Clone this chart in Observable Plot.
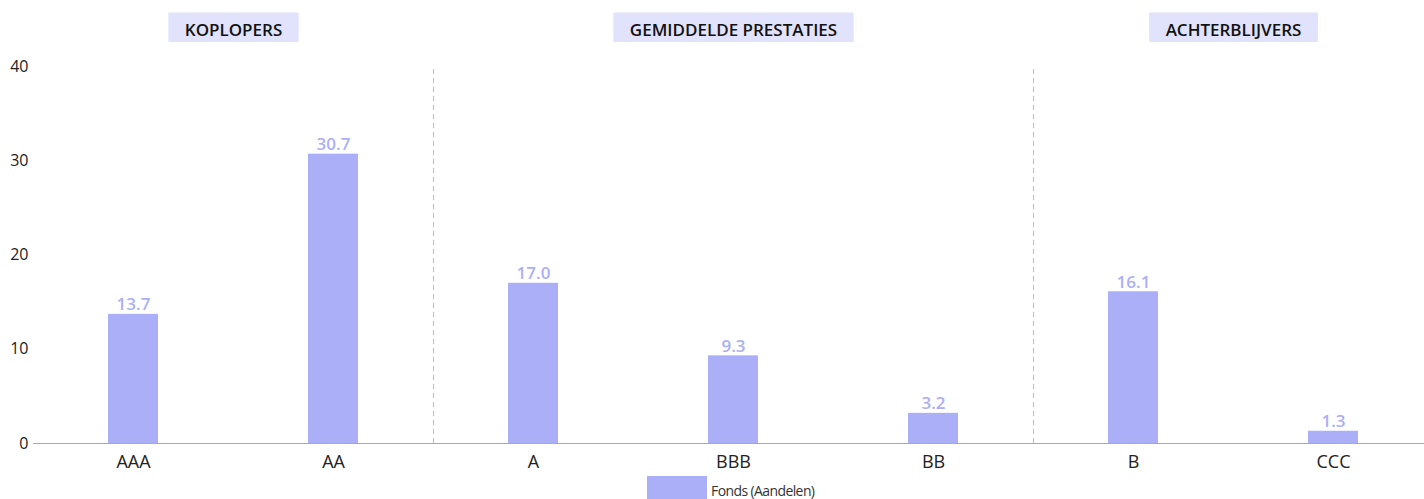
<!DOCTYPE html>
<html>
<head>
<meta charset="utf-8">
<script src="https://cdn.jsdelivr.net/npm/d3@7"></script>
<script src="https://cdn.jsdelivr.net/npm/@observablehq/plot@0.6"></script>
<style>
  html, body { margin: 0; padding: 0; background: #fff; }
  body { position: relative; width: 1424px; height: 499px; overflow: hidden; font-family: "Open Sans", sans-serif; }
  #chart { position: absolute; left: 0; top: 0; }
  #legend .sw { position: absolute; left: 647px; top: 476px; width: 60px; height: 23px; background: #abaff8; }
  #legend .lb { position: absolute; left: 711px; top: 484px; font-size: 14px; line-height: 14px; color: #333; letter-spacing: -0.6px; white-space: nowrap; }
</style>
</head>
<body>
<div id="chart"></div>
<div id="legend"><div class="sw"></div><div class="lb"></div></div>
<script>
const categories = ["AAA", "AA", "A", "BBB", "BB", "B", "CCC"];
const values = [13.7, 30.7, 17.0, 9.3, 3.2, 16.1, 1.3];
const groupLabels = ["KOPLOPERS", "GEMIDDELDE PRESTATIES", "ACHTERBLIJVERS"];
const groupFirst = [0, 2, 5];
const groupLast = [1, 4, 6];
const yTicks = [0, 10, 20, 30, 40];
const seriesName = "Fonds (Aandelen)";

const barColor = "#abaff8";
const rows = categories.map((c, i) => ({cat: c, i, value: values[i]}));
const groups = groupLabels.map((g, k) => ({label: g, center: (groupFirst[k] + groupLast[k]) / 2}));
const separators = groupLast.slice(0, -1).map(v => v + 0.5);

document.querySelector("#legend .lb").textContent = seriesName;

const plot = Plot.plot({
  width: 1424,
  height: 499,
  marginLeft: 33,
  marginRight: 0,
  marginTop: 66,
  marginBottom: 56,
  style: {fontFamily: "'Open Sans', sans-serif", background: "transparent"},
  x: {type: "linear", domain: [-0.5, 6.455], axis: null},
  y: {domain: [0, 40], axis: null},
  marks: [
    Plot.ruleX(separators, {x: d => d, y1: 0, y2: 40, stroke: "#bbb", strokeDasharray: "5,4"}),
    Plot.ruleY([0], {stroke: "#aaa"}),
    Plot.rectY(rows, {x1: d => d.i - 0.125, x2: d => d.i + 0.125, y: "value", fill: barColor}),
    Plot.text(rows, {x: "i", y: "value", text: d => d.value.toFixed(1), fill: barColor, fontWeight: 600, fontSize: 17, lineAnchor: "bottom", dy: -4}),
    Plot.axisX(d3.range(categories.length), {tickFormat: i => categories[i], tickSize: 0, tickPadding: 12, fontSize: 18, fill: "#222", label: null}),
    Plot.axisY(yTicks, {tickSize: 0, tickPadding: 5, fontSize: 16, fill: "#222", label: null}),
    Plot.text(groups, {x: "center", frameAnchor: "top", lineAnchor: "middle", dy: -36, text: "label", fontWeight: 600, fontSize: 17, fill: "#111", className: "hdr"})
  ]
});
document.getElementById("chart").appendChild(plot);

// header boxes behind group labels
const svgBox = plot.getBoundingClientRect();
const hdrGroup = plot.querySelector("g.hdr");
plot.querySelectorAll("g.hdr text").forEach(t => {
  const b = t.getBoundingClientRect();
  const r = document.createElementNS("http://www.w3.org/2000/svg", "rect");
  r.setAttribute("x", b.left - svgBox.left - 16.5);
  r.setAttribute("width", b.width + 33);
  r.setAttribute("y", 12.5);
  r.setAttribute("height", 29.5);
  r.setAttribute("fill", "#e1e2fb");
  hdrGroup.parentNode.insertBefore(r, hdrGroup);
});
</script>
</body>
</html>
